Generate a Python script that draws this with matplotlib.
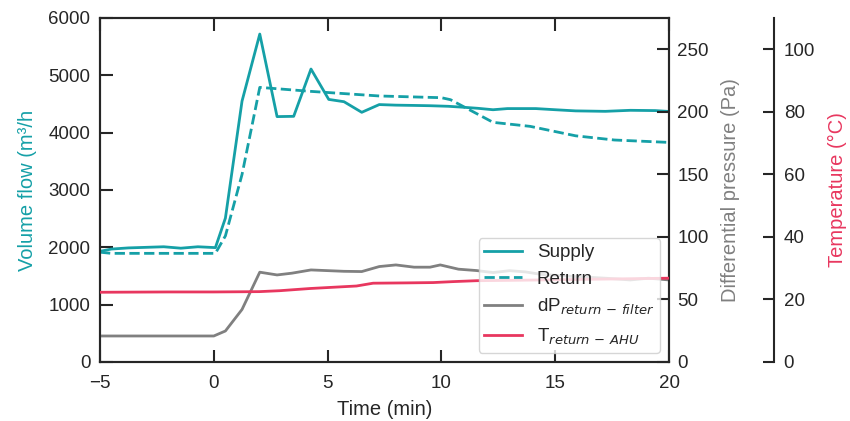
import matplotlib
matplotlib.use("Agg")
import matplotlib.pyplot as plt

# Datos
supply_t = [-5, -4.5, -3.75, -2.2, -1.45, -0.7, 0.07, 0.51, 1.24, 2.02, 2.78, 3.51,
            4.27, 5.05, 5.72, 6.5, 7.27, 8.0, 8.8, 9.5, 10.3, 10.9, 11.6, 12.27,
            12.9, 14.15, 15.0, 15.9, 17.2, 18.3, 19.4, 20]
supply_v = [1930, 1970, 1990, 2010, 1985, 2010, 1995, 2510, 4550, 5720, 4280, 4285,
            5110, 4580, 4540, 4355, 4490, 4480, 4475, 4470, 4460, 4445, 4425, 4400,
            4420, 4420, 4400, 4380, 4372, 4390, 4385, 4370]

return_t = [-5, -4.5, 0.07, 0.51, 1.24, 2.02, 4.27, 7.27, 10.0, 10.4, 12.27, 13.9,
            15.9, 17.6, 20]
return_v = [1915, 1895, 1895, 2200, 3270, 4790, 4720, 4640, 4610, 4575, 4180, 4110,
            3945, 3872, 3830]

dp_t = [-5, 0.0, 0.51, 1.24, 2.02, 2.78, 3.43, 4.27, 5.05, 5.72, 6.5, 7.27, 8.0,
        8.8, 9.5, 9.95, 10.75, 11.55, 12.27, 13.0, 13.7, 14.4, 15.9, 17.2, 18.3,
        19.1, 20]
dp_v = [20.8, 20.8, 24.8, 42, 71.8, 69.6, 71, 73.6, 73, 72.5, 72.3, 76.3, 77.6,
        75.8, 75.8, 77.6, 74.2, 73.1, 71.5, 73, 72, 70, 68.3, 67, 65.6, 67, 65.6]

temp_t = [-5, -2, 0, 2, 2.9, 4.23, 5.5, 6.27, 7.0, 8.5, 9.64, 10.5, 11.55, 13, 15,
          17, 20]
temp_v = [22.3, 22.4, 22.4, 22.5, 22.8, 23.5, 24.0, 24.3, 25.2, 25.3, 25.4, 25.7,
          26.0, 26.1, 26.3, 26.5, 26.8]

teal = "#15a0a7"
gris = "#808080"
rojo = "#e8375f"
oscuro = "#262626"

plt.rcParams['font.family'] = ['Liberation Sans', 'DejaVu Sans']
plt.rcParams['font.size'] = 13.5
plt.rcParams['axes.edgecolor'] = oscuro
plt.rcParams['axes.linewidth'] = 1.5
plt.rcParams['xtick.color'] = oscuro
plt.rcParams['ytick.color'] = oscuro
plt.rcParams['text.color'] = oscuro
plt.rcParams['axes.labelcolor'] = oscuro

fig = plt.figure(figsize=(8.5, 4.21), dpi=100)
ax = fig.add_axes([100 / 850, 1 - 362 / 421, 569 / 850, 344 / 421])
ax2 = ax.twinx()
ax3 = ax.twinx()

l1, = ax.plot(supply_t, supply_v, color=teal, lw=2, label='Supply')
l2, = ax.plot(return_t, return_v, color=teal, lw=2, ls='--', label='Return')
l3, = ax2.plot(dp_t, dp_v, color=gris, lw=2, label='dP$_{return\\,-\\,filter}$')
l4, = ax3.plot(temp_t, temp_v, color=rojo, lw=2, label='T$_{return\\,-\\,AHU}$')

ax.set_xlim(-5, 20)
ax.set_ylim(0, 6000)
ax.set_xticks([-5, 0, 5, 10, 15, 20])
ax.set_yticks(range(0, 7000, 1000))
ax.set_xlabel('Time (min)', fontsize=14.5, labelpad=6)
ax.set_ylabel('Volume flow (m³/h', color=teal, fontsize=14.5, labelpad=8)
ax.tick_params(axis='x', direction='in', length=9, width=1.5, pad=9, top=True)
ax.tick_params(axis='y', direction='in', length=9, width=1.5, pad=7)

ax2.set_ylim(0, 275)
ax2.set_yticks(range(0, 300, 50))
ax2.set_ylabel('Differential pressure (Pa)', color=gris, fontsize=14.5, labelpad=9)
ax2.tick_params(axis='y', direction='in', length=9, width=1.5, pad=6)

ax3.set_ylim(0, 110)
ax3.set_yticks(range(0, 120, 20))
ax3.spines['right'].set_position(('axes', 1.1845))
for lado in ['top', 'left', 'bottom']:
    ax3.spines[lado].set_visible(False)
ax3.set_ylabel('Temperature (°C)', color=rojo, fontsize=14.5, labelpad=9)
ax3.tick_params(axis='y', direction='in', length=8, width=1.5, pad=7)

ax3.legend(handles=[l1, l2, l3, l4], loc='lower right', fontsize=13.5,
           borderpad=0.3, borderaxespad=0.5)

fig.savefig('out.png', dpi=100)
